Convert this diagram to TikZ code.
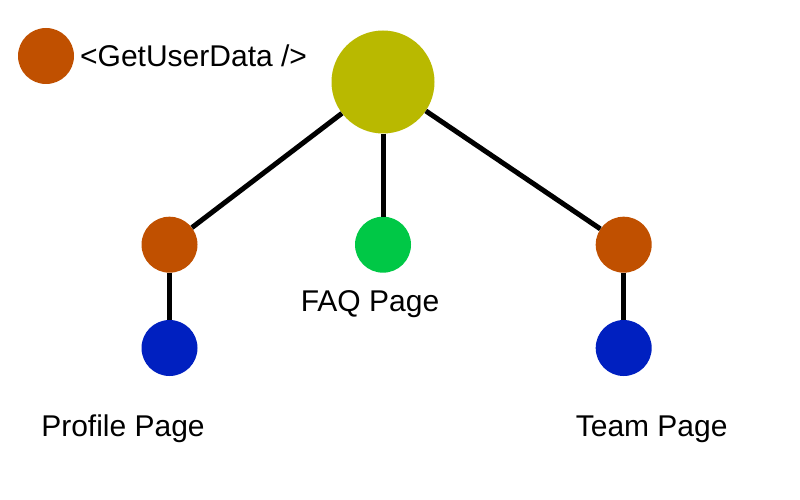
\documentclass[tikz,border=0pt]{standalone}
\usepackage{fontspec}
\setmainfont{Liberation Sans}
\definecolor{cOrange}{RGB}{192,80,0}
\definecolor{cOlive}{RGB}{185,185,0}
\definecolor{cGreen}{RGB}{0,200,70}
\definecolor{cBlue}{RGB}{0,32,192}
\tikzset{
  dot/.style={circle,inner sep=0pt,minimum size=56pt,draw=none},
  edge/.style={line width=5pt,black},
  lbl/.style={font=\fontsize{30}{35}\selectfont,inner sep=0pt}
}
\begin{document}
\begin{tikzpicture}[x=1pt,y=-1pt]
\useasboundingbox (0,0) rectangle (800,500);
\node[dot,fill=cOrange] (legend) at (46,56) {};
\node[lbl,anchor=base west] (legendtext) at (80,67) {<GetUserData />};
\node[dot,fill=cOlive,minimum size=103pt] (root) at (383,82) {};
\node[dot,fill=cOrange] (profileget) at (169.5,244.7) {};
\node[dot,fill=cGreen] (faq) at (383,244.7) {};
\node[dot,fill=cOrange] (teamget) at (623.7,244.7) {};
\node[dot,fill=cBlue] (profile) at (169.5,348) {};
\node[dot,fill=cBlue] (team) at (623.7,348) {};
\node[lbl,anchor=base] (faqtext) at (370,311.5) {FAQ Page};
\node[lbl,anchor=base] (profiletext) at (123,436) {Profile Page};
\node[lbl,anchor=base] (teamtext) at (651.7,436) {Team Page};
\draw[edge] (root) -- (profileget);
\draw[edge] (root) -- (faq);
\draw[edge] (root) -- (teamget);
\draw[edge] (profileget) -- (profile);
\draw[edge] (teamget) -- (team);
\end{tikzpicture}
\end{document}
